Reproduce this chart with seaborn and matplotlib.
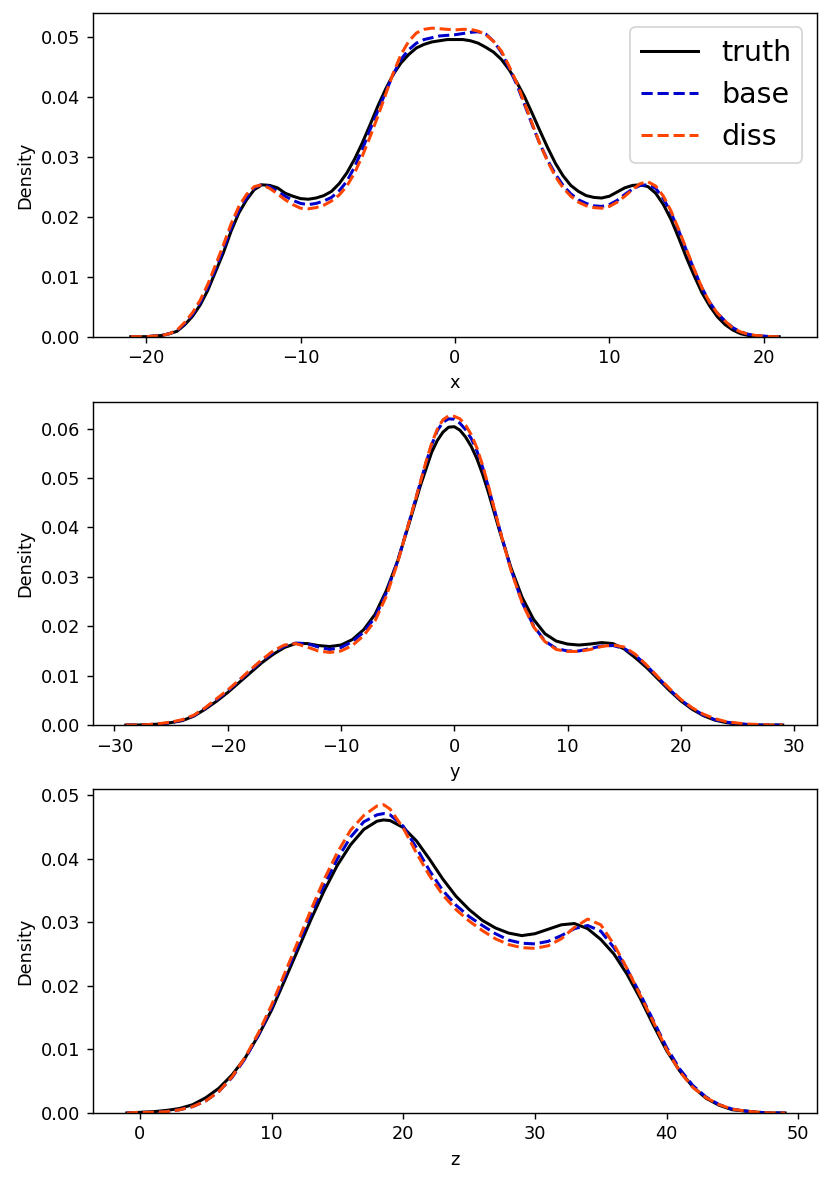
import pandas as pd
import matplotlib
matplotlib.use("Agg")
import matplotlib.pyplot as plt
import seaborn as sns


# DATA (densities)

# x panel: grid -21 .. 21, step 0.5
x_grid = [v / 2 for v in range(-42, 43)]
x_truth = [0.0000, 0.0000, 0.0000, 0.0001, 0.0002, 0.0005, 0.0009, 0.0020, 0.0034, 0.0053,
           0.0078, 0.0109, 0.0140, 0.0176, 0.0206, 0.0228, 0.0245, 0.0253, 0.0252, 0.0248,
           0.0239, 0.0234, 0.0230, 0.0229, 0.0231, 0.0235, 0.0242, 0.0255, 0.0273, 0.0296,
           0.0323, 0.0353, 0.0384, 0.0412, 0.0437, 0.0456, 0.0470, 0.0481, 0.0487, 0.0491,
           0.0493, 0.0495, 0.0495, 0.0495, 0.0493, 0.0489, 0.0482, 0.0474, 0.0462, 0.0445,
           0.0424, 0.0400, 0.0372, 0.0343, 0.0315, 0.0289, 0.0268, 0.0252, 0.0242, 0.0235,
           0.0232, 0.0231, 0.0234, 0.0241, 0.0248, 0.0252, 0.0253, 0.0250, 0.0239, 0.0220,
           0.0195, 0.0164, 0.0131, 0.0101, 0.0073, 0.0051, 0.0033, 0.0020, 0.0011, 0.0005,
           0.0002, 0.0001, 0.0000, 0.0000, 0.0000]
x_base = [0.0000, 0.0000, 0.0000, 0.0001, 0.0002, 0.0005, 0.0010, 0.0022, 0.0037, 0.0057,
          0.0083, 0.0114, 0.0146, 0.0181, 0.0211, 0.0232, 0.0248, 0.0254, 0.0250, 0.0242,
          0.0234, 0.0227, 0.0222, 0.0220, 0.0222, 0.0226, 0.0232, 0.0243, 0.0259, 0.0283,
          0.0312, 0.0345, 0.0376, 0.0407, 0.0437, 0.0462, 0.0478, 0.0489, 0.0495, 0.0498,
          0.0501, 0.0502, 0.0503, 0.0505, 0.0507, 0.0508, 0.0504, 0.0492, 0.0474, 0.0448,
          0.0420, 0.0387, 0.0353, 0.0321, 0.0294, 0.0271, 0.0252, 0.0238, 0.0228, 0.0222,
          0.0218, 0.0217, 0.0220, 0.0227, 0.0237, 0.0246, 0.0252, 0.0253, 0.0247, 0.0230,
          0.0206, 0.0176, 0.0143, 0.0111, 0.0081, 0.0057, 0.0039, 0.0026, 0.0015, 0.0008,
          0.0004, 0.0002, 0.0001, 0.0000, 0.0000]
x_diss = [0.0000, 0.0000, 0.0000, 0.0001, 0.0002, 0.0005, 0.0011, 0.0024, 0.0040, 0.0061,
          0.0088, 0.0120, 0.0153, 0.0188, 0.0217, 0.0237, 0.0250, 0.0253, 0.0247, 0.0238,
          0.0228, 0.0220, 0.0214, 0.0213, 0.0215, 0.0219, 0.0226, 0.0236, 0.0251, 0.0273,
          0.0301, 0.0333, 0.0367, 0.0403, 0.0439, 0.0470, 0.0492, 0.0506, 0.0512, 0.0514,
          0.0513, 0.0512, 0.0511, 0.0512, 0.0512, 0.0509, 0.0503, 0.0492, 0.0476, 0.0451,
          0.0423, 0.0389, 0.0355, 0.0321, 0.0292, 0.0267, 0.0248, 0.0234, 0.0224, 0.0218,
          0.0215, 0.0214, 0.0217, 0.0224, 0.0234, 0.0245, 0.0255, 0.0258, 0.0251, 0.0234,
          0.0209, 0.0178, 0.0145, 0.0112, 0.0081, 0.0057, 0.0039, 0.0026, 0.0014, 0.0008,
          0.0004, 0.0002, 0.0001, 0.0000, 0.0000]

# y panel: unit steps, half steps around the central peak
y_grid = (list(range(-29, -2)) + [-2.5, -2, -1.5, -1, -0.5, 0, 0.5, 1, 1.5, 2, 2.5]
          + list(range(3, 30)))
y_truth = [0.0000, 0.0000, 0.0001, 0.0002, 0.0005, 0.0009, 0.0018, 0.0032, 0.0048, 0.0066,
           0.0086, 0.0106, 0.0126, 0.0143, 0.0157, 0.0165, 0.0165, 0.0161, 0.0159, 0.0162,
           0.0173, 0.0193, 0.0224, 0.0272, 0.0332, 0.0407, 0.0484,
           0.0518, 0.0552, 0.0576, 0.0593, 0.0603, 0.0604, 0.0597, 0.0583, 0.0564, 0.0539,
           0.0508,
           0.0472, 0.0393, 0.0319, 0.0258, 0.0214, 0.0185, 0.0170, 0.0164, 0.0162, 0.0164,
           0.0167, 0.0165, 0.0154, 0.0136, 0.0116, 0.0093, 0.0070, 0.0049, 0.0032, 0.0019,
           0.0010, 0.0005, 0.0002, 0.0001, 0.0000, 0.0000, 0.0000]
y_base = [0.0000, 0.0000, 0.0001, 0.0002, 0.0005, 0.0010, 0.0019, 0.0034, 0.0051, 0.0069,
          0.0090, 0.0110, 0.0130, 0.0147, 0.0160, 0.0166, 0.0165, 0.0158, 0.0153, 0.0157,
          0.0169, 0.0188, 0.0218, 0.0268, 0.0332, 0.0410, 0.0491,
          0.0530, 0.0567, 0.0596, 0.0613, 0.0620, 0.0619, 0.0611, 0.0598, 0.0580, 0.0555,
          0.0522,
          0.0483, 0.0397, 0.0316, 0.0248, 0.0201, 0.0170, 0.0155, 0.0150, 0.0150, 0.0155,
          0.0160, 0.0161, 0.0155, 0.0141, 0.0120, 0.0096, 0.0072, 0.0051, 0.0034, 0.0020,
          0.0011, 0.0006, 0.0003, 0.0001, 0.0000, 0.0000, 0.0000]
y_diss = [0.0000, 0.0000, 0.0001, 0.0003, 0.0006, 0.0011, 0.0020, 0.0035, 0.0053, 0.0071,
          0.0091, 0.0112, 0.0132, 0.0150, 0.0162, 0.0165, 0.0158, 0.0150, 0.0147, 0.0150,
          0.0161, 0.0181, 0.0211, 0.0261, 0.0329, 0.0410, 0.0491,
          0.0533, 0.0570, 0.0599, 0.0618, 0.0626, 0.0625, 0.0620, 0.0607, 0.0588, 0.0561,
          0.0526,
          0.0485, 0.0397, 0.0314, 0.0247, 0.0199, 0.0169, 0.0153, 0.0149, 0.0149, 0.0153,
          0.0159, 0.0162, 0.0158, 0.0143, 0.0121, 0.0097, 0.0074, 0.0052, 0.0035, 0.0022,
          0.0013, 0.0007, 0.0004, 0.0002, 0.0001, 0.0000, 0.0000]

# z panel: unit steps plus the peak at 18.5
z_grid = list(range(-1, 19)) + [18.5] + list(range(19, 50))
z_truth = [0.0000, 0.0001, 0.0002, 0.0004, 0.0007, 0.0013, 0.0024, 0.0039, 0.0060, 0.0087,
           0.0122, 0.0162, 0.0209, 0.0257, 0.0305, 0.0350, 0.0390, 0.0422, 0.0446, 0.0459,
           0.0461,
           0.0460, 0.0449, 0.0428, 0.0399, 0.0368, 0.0341, 0.0320, 0.0303, 0.0291, 0.0283,
           0.0279, 0.0282, 0.0289, 0.0296, 0.0298, 0.0290, 0.0273, 0.0250, 0.0218, 0.0180,
           0.0138, 0.0098, 0.0066, 0.0041, 0.0023, 0.0012, 0.0005, 0.0003, 0.0001, 0.0000,
           0.0000]
z_base = [0.0000, 0.0001, 0.0001, 0.0002, 0.0005, 0.0010, 0.0019, 0.0034, 0.0056, 0.0086,
          0.0123, 0.0166, 0.0215, 0.0264, 0.0313, 0.0359, 0.0400, 0.0434, 0.0458, 0.0469,
          0.0471,
          0.0469, 0.0451, 0.0417, 0.0381, 0.0350, 0.0327, 0.0309, 0.0295, 0.0282, 0.0272,
          0.0267, 0.0266, 0.0270, 0.0279, 0.0290, 0.0295, 0.0286, 0.0260, 0.0226, 0.0187,
          0.0145, 0.0103, 0.0069, 0.0043, 0.0025, 0.0013, 0.0006, 0.0003, 0.0001, 0.0000,
          0.0000]
z_diss = [0.0000, 0.0001, 0.0001, 0.0002, 0.0005, 0.0010, 0.0019, 0.0034, 0.0057, 0.0088,
          0.0126, 0.0170, 0.0220, 0.0270, 0.0320, 0.0368, 0.0410, 0.0445, 0.0468, 0.0483,
          0.0485,
          0.0478, 0.0448, 0.0409, 0.0373, 0.0343, 0.0320, 0.0302, 0.0287, 0.0274, 0.0265,
          0.0260, 0.0259, 0.0263, 0.0274, 0.0292, 0.0305, 0.0296, 0.0265, 0.0227, 0.0185,
          0.0143, 0.0100, 0.0065, 0.0040, 0.0024, 0.0013, 0.0006, 0.0003, 0.0001, 0.0000,
          0.0000]

series = ["truth", "base", "diss"]
colors = {"truth": "black", "base": "#0000CD", "diss": "#FF4500"}
styles = {"truth": "-", "base": "--", "diss": "--"}

panels = [
    ("x", x_grid, [x_truth, x_base, x_diss], (-23.45, 23.43), 0.0539),
    ("y", y_grid, [y_truth, y_base, y_diss], (-31.9, 32.0), 0.0655),
    ("z", z_grid, [z_truth, z_base, z_diss], (-3.57, 51.4), 0.0509),
]

# axes boxes in figure fractions (left, bottom, width, height)
boxes = [
    (0.112, 0.7154, 0.872, 0.2735),
    (0.112, 0.3871, 0.872, 0.2735),
    (0.112, 0.0592, 0.872, 0.2735),
]


fig = plt.figure(figsize=(830 / 128, 1183 / 128), dpi=128)

for i, (name, grid, vals, xlim, ytop) in enumerate(panels):
    ax = fig.add_axes(boxes[i])
    for s, v in zip(series, vals):
        df = pd.DataFrame({name: grid, "Density": v})
        sns.lineplot(
            data=df, x=name, y="Density", ax=ax,
            color=colors[s], linestyle=styles[s], linewidth=1.7,
            label=s if i == 0 else None,
        )
    ax.set_xlim(*xlim)
    ax.set_ylim(0, ytop)
    ax.set_xlabel(name)
    ax.set_ylabel("Density")
    if i == 0:
        ax.legend(loc="upper right", fontsize=16)
    elif ax.get_legend() is not None:
        ax.get_legend().remove()

fig.savefig("out.png", dpi=128)
